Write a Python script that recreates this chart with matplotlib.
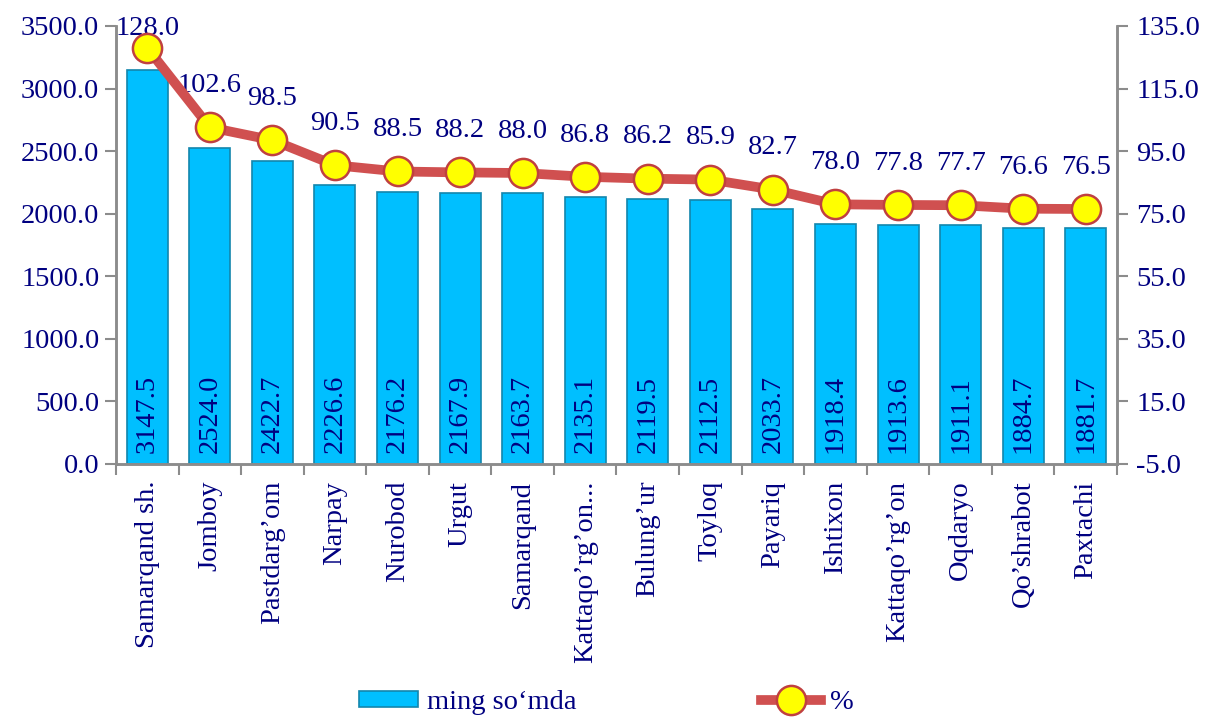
import matplotlib.pyplot as plt

# Data
districts = ['Samarqand sh.', 'Jomboy', 'Pastdarg’om', 'Narpay', 'Nurobod', 'Urgut',
             'Samarqand', 'Kattaqo’rg’on...', 'Bulung’ur', 'Toyloq', 'Payariq',
             'Ishtixon', 'Kattaqo’rg’on', 'Oqdaryo', 'Qo’shrabot', 'Paxtachi']
amount = [3147.5, 2524.0, 2422.7, 2226.6, 2176.2, 2167.9, 2163.7, 2135.1,
          2119.5, 2112.5, 2033.7, 1918.4, 1913.6, 1911.1, 1884.7, 1881.7]
percent = [128.0, 102.6, 98.5, 90.5, 88.5, 88.2, 88.0, 86.8,
           86.2, 85.9, 82.7, 78.0, 77.8, 77.7, 76.6, 76.5]

left_ticks = [0, 500, 1000, 1500, 2000, 2500, 3000, 3500]
right_ticks = [-5, 15, 35, 55, 75, 95, 115, 135]

navy = '#000080'
grey = '#8c8c8c'
fs = 20.5

plt.rcParams['font.family'] = ['Liberation Serif', 'DejaVu Serif']

fig = plt.figure(figsize=(12.12, 7.2), dpi=100)
ax = fig.add_axes([0.0957, 0.3556, 0.8259, 0.6083])
ax2 = ax.twinx()

x = list(range(len(districts)))

# bars (left axis)
bars = ax.bar(x, amount, width=0.655, color='#00bfff', edgecolor='#1386ad',
              linewidth=1.2, label='ming so‘mda', zorder=2)
for xi, v in zip(x, amount):
    ax.annotate(f'{v:.1f}', (xi, 0), xytext=(0, 8), textcoords='offset points',
                rotation=90, ha='center', va='bottom', color=navy, fontsize=fs,
                zorder=3)

ax.set_ylim(0, 3500)
ax.set_yticks(left_ticks)
ax.set_yticklabels([f'{t:.1f}' for t in left_ticks])
ax.set_xlim(-0.5, len(districts) - 0.5)

# boundaries get the tick marks, centers get the labels
ax.set_xticks([i - 0.5 for i in range(len(districts) + 1)])
ax.set_xticklabels([])
ax.set_xticks(x, minor=True)
ax.set_xticklabels(districts, minor=True, rotation=90, fontsize=fs, color=navy)
ax.tick_params(axis='x', which='minor', length=0, pad=12)
ax.tick_params(axis='x', which='major', length=8, width=1.5, color=grey)
ax.tick_params(axis='y', length=8, width=1.5, color=grey, labelsize=fs,
               labelcolor=navy, pad=4)

# line (right axis)
ax2.plot(x, percent, color='#d05050', linewidth=7, marker='o', markersize=21,
         markerfacecolor='#ffff00', markeredgecolor='#c04040',
         markeredgewidth=1.8, label='%', zorder=4, clip_on=False)
for i, (xi, v) in enumerate(zip(x, percent)):
    off = 14 if i == 0 else 30
    ax2.annotate(f'{v:.1f}', (xi, v), xytext=(0, off), textcoords='offset points',
                 ha='center', va='center', color=navy, fontsize=fs)
ax2.set_ylim(-5, 135)
ax2.set_yticks(right_ticks)
ax2.set_yticklabels([f'{t:.1f}' for t in right_ticks])
ax2.tick_params(axis='y', length=8, width=1.5, color=grey, labelsize=fs,
                labelcolor=navy, pad=6)

for a in (ax, ax2):
    a.spines['top'].set_visible(False)
    for s in ('left', 'right', 'bottom'):
        a.spines[s].set_color(grey)
        a.spines[s].set_linewidth(1.8)

h1, l1 = ax.get_legend_handles_labels()
h2, l2 = ax2.get_legend_handles_labels()
fig.legend(h1 + h2, l1 + l2, loc='center', bbox_to_anchor=(0.5, 0.024), ncol=2,
           frameon=False, fontsize=fs, labelcolor=navy, handlelength=2.1,
           handleheight=0.45, handletextpad=0.3, columnspacing=6.5)

fig.savefig('out.png', dpi=100)
